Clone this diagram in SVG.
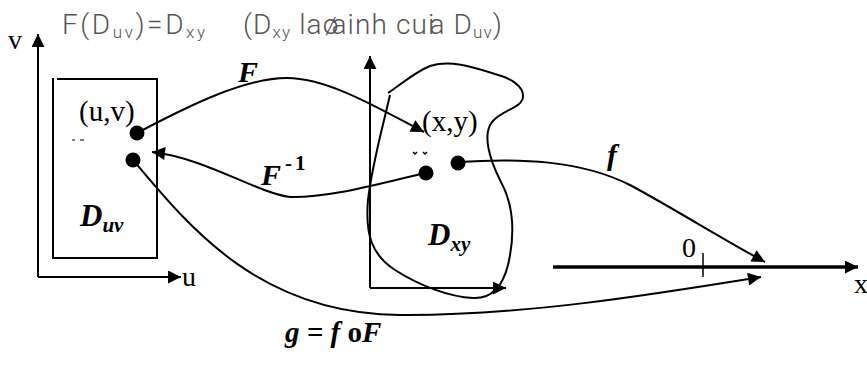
<svg xmlns="http://www.w3.org/2000/svg" width="867" height="366" viewBox="0 0 867 366">
<style>
.ln{fill:none;stroke:#000;stroke-width:2}
.ax{fill:none;stroke:#000;stroke-width:2}
.dot{fill:#000}
.hd{font-family:Roboto,"Liberation Sans",sans-serif;font-weight:300;fill:#555}
.tm{font-family:"Liberation Serif",serif;fill:#000}
.bi{font-family:"Liberation Serif",serif;font-weight:bold;font-style:italic;fill:#000}
</style>
<defs>
<marker id="ar" viewBox="0 0 10 10" refX="10" refY="5" markerUnits="userSpaceOnUse" markerWidth="15" markerHeight="13" orient="auto">
<path d="M0,0 L10,5 L0,10 z" fill="#000"/>
</marker>
</defs>
<rect width="867" height="366" fill="#fff"/>

<g id="header">
<text class="hd" x="62" y="34" font-size="28" textLength="143" lengthAdjust="spacing">F(D<tspan font-size="17" dy="4">uv</tspan><tspan dy="-4">)=D</tspan><tspan font-size="17" dy="4">xy</tspan></text>
<text class="hd" x="243" y="34" font-size="28" textLength="259" lengthAdjust="spacing">(D<tspan font-size="17" dy="4">xy</tspan><tspan dy="-4"> la</tspan><tspan>ø</tspan><tspan dx="-8">ainh cui</tspan><tspan dx="-6">a D</tspan><tspan font-size="17" dy="4">uv</tspan><tspan dy="-4">)</tspan></text>
</g>

<g id="uv-axes">
<path class="ax" d="M38,277 L38,34" marker-end="url(#ar)"/>
<path class="ax" d="M38,277 L181,277" marker-end="url(#ar)"/>
<text class="tm" x="8" y="49" font-size="28">v</text>
<text class="tm" x="182" y="286" font-size="28">u</text>
</g>

<g id="Duv">
<path class="ln" d="M57,79 L157,79 L157,258 L53,258 L53,78"/>
<text class="tm" x="79" y="121" font-size="29">(u,v)</text>
<path d="M72,140 h3 M80,140 h4" stroke="#000" stroke-width="1.2"/>
<circle class="dot" cx="137" cy="133" r="7.5"/>
<circle class="dot" cx="133" cy="160" r="7.5"/>
<text class="bi" x="80" y="226" font-size="31">D<tspan font-size="21" dy="6">uv</tspan></text>
</g>

<g id="xy-axes">
<path class="ax" d="M370,288 L370,56" marker-end="url(#ar)"/>
<path class="ax" d="M370,288 L506,288" marker-end="url(#ar)"/>
</g>

<g id="Dxy">
<path class="ln" d="M390,95 C382,130 372,165 368,200 C365,235 372,255 395,270 C420,286 450,297 473,298 C493,299 503,285 508,265 C515,235 514,205 500,180 C490,160 482,135 492,122 C502,110 522,108 523,97 C524,86 510,78 495,74 C470,66 450,60 430,66 C415,72 400,85 388,93"/>
<text class="tm" x="422" y="131" font-size="29">(x,y)</text>
<path d="M413,152 l2,2 l2,-2 M423,152 l2,2 l2,-2" stroke="#000" stroke-width="1.5" fill="none"/>
<circle class="dot" cx="426" cy="173" r="7.5"/>
<circle class="dot" cx="458" cy="163" r="7.5"/>
<text class="bi" x="428" y="245" font-size="31">D<tspan font-size="21" dy="6">xy</tspan></text>
</g>

<g id="x-axis">
<path d="M553,267 L858,267" fill="none" stroke="#000" stroke-width="3.5" marker-end="url(#ar)"/>
<path d="M703,253 L703,277" stroke="#000" stroke-width="1.5"/>
<text class="tm" x="682" y="257" font-size="28">0</text>
<text class="tm" x="854" y="293" font-size="28">x</text>
</g>

<g id="connectors">
<path class="ln" d="M137,133 C190,105 245,78 287,78 C330,78 385,112 424,132" marker-end="url(#ar)"/>
<path class="ln" d="M426,173 C380,183 330,198 290,197 C255,192 205,158 152,152" marker-end="url(#ar)"/>
<path class="ln" d="M458,162 C520,158 580,160 630,185 C680,212 720,238 765,262" marker-end="url(#ar)"/>
<path class="ln" d="M133,160 C190,228 260,314 400,315 C520,316 650,295 761,277" marker-end="url(#ar)"/>
</g>

<g id="labels">
<text class="bi" x="238" y="82" font-size="30">F</text>
<text class="bi" x="261" y="185" font-size="30">F<tspan font-size="21" font-style="normal" dx="4" dy="-15">-</tspan><tspan font-size="21" font-style="normal" dx="3">1</tspan></text>
<text class="bi" x="607" y="165" font-size="30">f</text>
<text class="bi" x="285" y="342" font-size="29">g = f <tspan font-style="normal">o</tspan>F</text>
</g>
</svg>
